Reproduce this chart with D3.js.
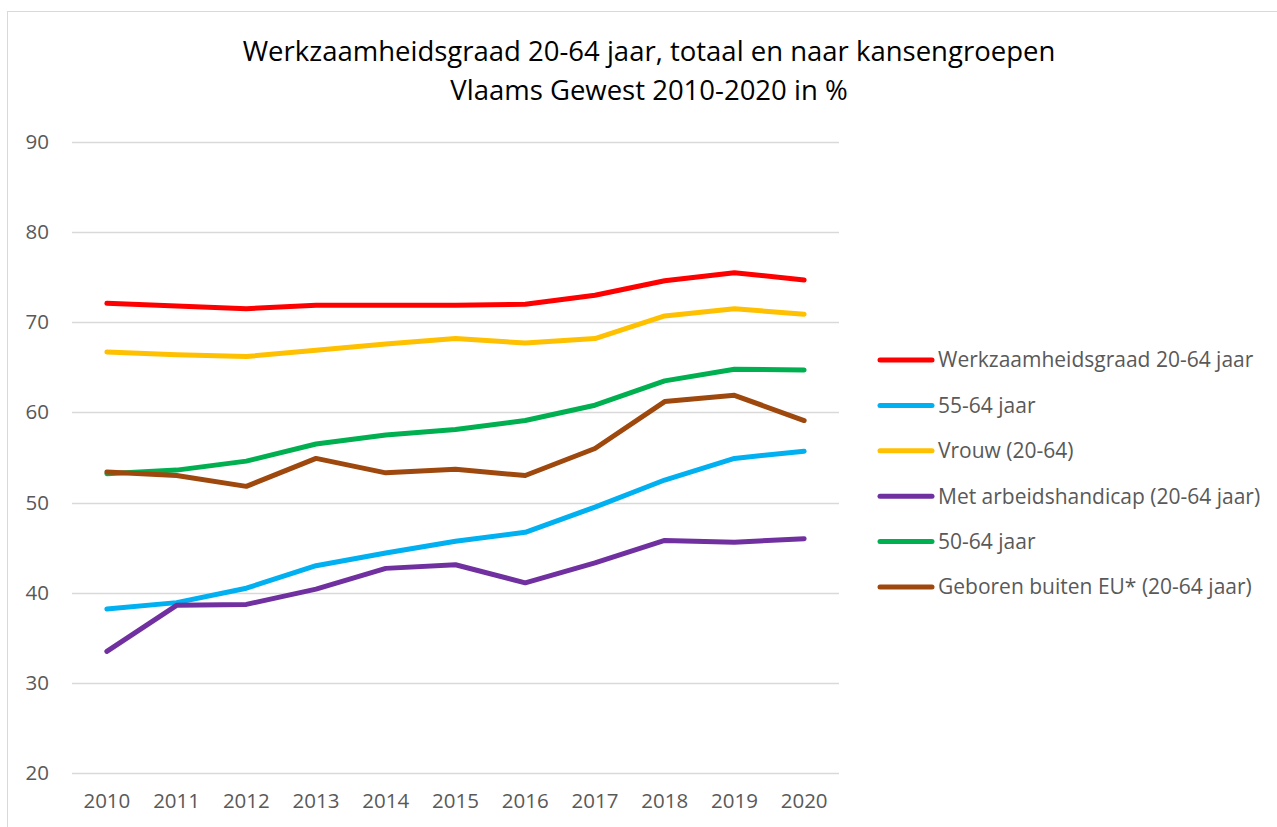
<!DOCTYPE html>
<html>
<head>
<meta charset="utf-8">
<script src="https://cdn.jsdelivr.net/npm/d3@7"></script>
<style>
  body { margin: 0; background: #fff; }
  svg text { font-family: "Open Sans", Lato, sans-serif; }
</style>
</head>
<body>
<div id="chart"></div>
<script>
// data
var years = ['2010', '2011', '2012', '2013', '2014', '2015', '2016', '2017', '2018', '2019', '2020'];
var yTicks = [20, 30, 40, 50, 60, 70, 80, 90];

var totaal   = [72.1, 71.8, 71.5, 71.9, 71.9, 71.9, 72.0, 73.0, 74.6, 75.5, 74.7];
var oud5564  = [38.2, 38.9, 40.5, 43.0, 44.4, 45.7, 46.7, 49.5, 52.5, 54.9, 55.7];
var vrouw    = [66.7, 66.4, 66.2, 66.9, 67.6, 68.2, 67.7, 68.2, 70.7, 71.5, 70.9];
var handicap = [33.5, 38.6, 38.7, 40.4, 42.7, 43.1, 41.1, 43.3, 45.8, 45.6, 46.0];
var oud5064  = [53.2, 53.6, 54.6, 56.5, 57.5, 58.1, 59.1, 60.8, 63.5, 64.8, 64.7];
var buitenEU = [53.4, 53.0, 51.8, 54.9, 53.3, 53.7, 53.0, 56.0, 61.2, 61.9, 59.1];

var series = [
  { name: 'Werkzaamheidsgraad 20-64 jaar', values: totaal, color: '#ff0000' },
  { name: '55-64 jaar', values: oud5564, color: '#00b0f0' },
  { name: 'Vrouw (20-64)', values: vrouw, color: '#ffc000' },
  { name: 'Met arbeidshandicap (20-64 jaar)', values: handicap, color: '#7030a0' },
  { name: '50-64 jaar', values: oud5064, color: '#00b050' },
  { name: 'Geboren buiten EU* (20-64 jaar)', values: buitenEU, color: '#9e480e' }
];
// draw order: later ones on top, as in the reference
var drawOrder = [0, 2, 4, 5, 1, 3];

var width = 1277, height = 827;
var margin = { top: 142, left: 72, right: 438, bottom: 54 };

var svg = d3.select('#chart').append('svg')
    .attr('width', width)
    .attr('height', height);

// chart frame (cropped at right / bottom)
svg.append('rect')
    .attr('x', 7.5).attr('y', 11.5)
    .attr('width', width + 20).attr('height', height + 20)
    .attr('fill', '#fff')
    .attr('stroke', '#d9d9d9');

var x = d3.scaleBand()
    .domain(years)
    .range([margin.left, width - margin.right]);

var y = d3.scaleLinear()
    .domain([20, 90])
    .range([height - margin.bottom, margin.top]);

// gridlines
svg.append('g')
    .selectAll('line')
    .data(yTicks)
    .enter().append('line')
    .attr('x1', margin.left)
    .attr('x2', width - margin.right)
    .attr('y1', function (d) { return Math.round(y(d)) + 0.5; })
    .attr('y2', function (d) { return Math.round(y(d)) + 0.5; })
    .attr('stroke', '#d9d9d9')
    .attr('stroke-width', 1.5);

// y axis labels
var yAxis = svg.append('g')
    .attr('transform', 'translate(' + (margin.left - 23) + ',0)')
    .call(d3.axisLeft(y).tickValues(yTicks).tickSize(0).tickPadding(0));
yAxis.select('.domain').remove();
yAxis.selectAll('text')
    .attr('fill', '#595959')
    .style('font-size', '20.5px');

// x axis labels
var xAxis = svg.append('g')
    .attr('transform', 'translate(0,' + (height - margin.bottom) + ')')
    .call(d3.axisBottom(x).tickSize(0).tickPadding(20));
xAxis.select('.domain').remove();
xAxis.selectAll('text')
    .attr('fill', '#595959')
    .style('font-size', '20.5px');

// lines
var line = d3.line()
    .x(function (d, i) { return x(years[i]) + x.bandwidth() / 2; })
    .y(function (d) { return y(d); });

svg.append('g')
    .selectAll('path')
    .data(drawOrder.map(function (i) { return series[i]; }))
    .enter().append('path')
    .attr('d', function (d) { return line(d.values); })
    .attr('fill', 'none')
    .attr('stroke', function (d) { return d.color; })
    .attr('stroke-width', 5)
    .attr('stroke-linecap', 'round')
    .attr('stroke-linejoin', 'round');

// legend
var legend = svg.append('g')
    .attr('transform', 'translate(878,360)')
    .selectAll('g')
    .data(series)
    .enter().append('g')
    .attr('transform', function (d, i) { return 'translate(0,' + (i * 45.4) + ')'; });

legend.append('line')
    .attr('x1', 2).attr('x2', 54)
    .attr('y1', 0).attr('y2', 0)
    .attr('stroke', function (d) { return d.color; })
    .attr('stroke-width', 5)
    .attr('stroke-linecap', 'round');

legend.append('text')
    .attr('x', 60)
    .attr('y', 0)
    .attr('dy', '0.35em')
    .attr('fill', '#595959')
    .style('font-size', '21px')
    .text(function (d) { return d.name; });

// title
var title = svg.append('text')
    .attr('x', 649)
    .attr('text-anchor', 'middle')
    .attr('fill', '#000')
    .style('font-size', '27.5px');
title.append('tspan').attr('x', 649).attr('y', 61)
    .text('Werkzaamheidsgraad 20-64 jaar, totaal en naar kansengroepen');
title.append('tspan').attr('x', 649).attr('y', 100)
    .text('Vlaams Gewest 2010-2020 in %');
</script>
</body>
</html>
